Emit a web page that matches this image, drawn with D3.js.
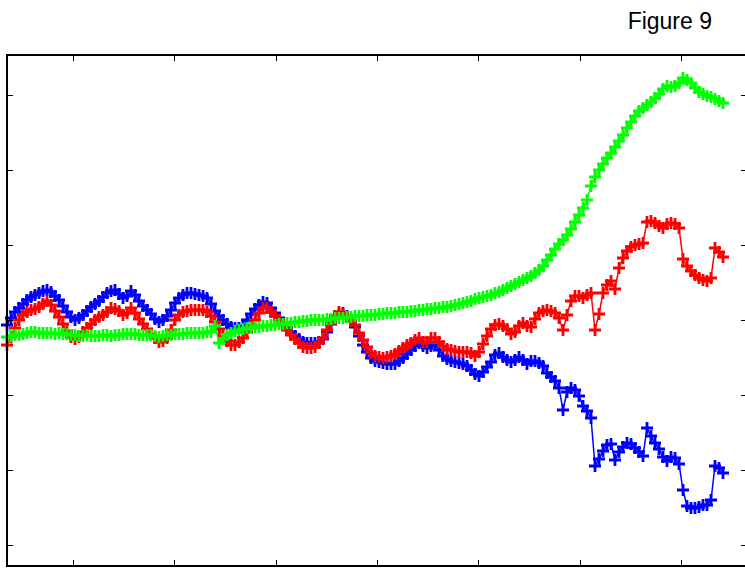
<!DOCTYPE html>
<html>
<head>
<meta charset="utf-8">
<script src="https://cdn.jsdelivr.net/npm/d3@7"></script>
<style>
  html, body { margin: 0; padding: 0; background: #fff; }
  svg { display: block; }
</style>
</head>
<body>
<div id="chart"></div>
<script>
// sample positions (x units) shared by all three traces
const step = 4;
// series values
const blueValues = [
  -5, 2, 8, 12, 16, 20, 23, 25, 27, 29,
  30, 28, 24, 20, 14, 8, 3, 0, 2, 5,
  9, 13, 16, 19, 23, 27, 29, 30, 26, 22,
  24, 29, 25, 19, 14, 10, 6, 1, -2, 0,
  4, 10, 17, 22, 25, 27, 27, 26, 25, 24,
  22, 16, 9, 4, 0, -4, -7, -8, -8, -6,
  0, 6, 11, 15, 18, 17, 12, 7, 2, -3,
  -8, -12, -16, -19, -22, -23, -23, -23, -22, -19,
  -12, -4, 3, 6, 7, 4, -1, -7, -16, -25,
  -32, -38, -41, -42, -43, -44, -44, -44, -41, -38,
  -34, -30, -26, -23, -26, -28, -26, -25, -30, -36,
  -39, -41, -42, -43, -44, -46, -50, -54, -56, -52,
  -47, -42, -35, -33, -37, -40, -42, -40, -37, -40,
  -44, -41, -41, -43, -46, -53, -57, -61, -68, -90,
  -72, -68, -70, -76, -86, -91, -98, -146, -139, -131,
  -125, -124, -140, -132, -127, -123, -124, -128, -132, -136,
  -108, -116, -123, -129, -137, -141, -137, -138, -144, -170,
  -186, -188, -188, -187, -185, -185, -180, -146, -148, -153
];
const redValues = [
  -25, -17, -8, 0, 5, 8, 10, 11, 13, 16,
  19, 15, 9, 3, -4, -11, -17, -19, -17, -12,
  -8, -4, 0, 3, 5, 8, 12, 11, 9, 5,
  7, 12, 7, 1, -4, -9, -14, -18, -22, -21,
  -18, -10, 0, 5, 8, 9, 10, 10, 10, 10,
  8, 4, -2, -9, -16, -21, -25, -25, -22, -18,
  -12, -6, 0, 7, 12, 12, 8, 4, 0, -5,
  -10, -15, -19, -23, -27, -28, -28, -27, -23, -18,
  -10, -3, 4, 8, 6, 3, -1, -5, -13, -20,
  -27, -33, -36, -37, -38, -37, -36, -34, -31, -28,
  -25, -23, -20, -18, -22, -22, -18, -18, -22, -26,
  -29, -30, -31, -32, -32, -32, -33, -36, -32, -24,
  -16, -9, -5, -4, -6, -9, -14, -12, -6, -3,
  -6, -7, 1, 7, 9, 10, 9, 7, 2, -10,
  5, 19, 24, 24, 22, 25, 27, -10, 6, 27,
  35, 39, 31, 52, 62, 69, 73, 75, 76, 77,
  98, 99, 97, 94, 92, 96, 97, 96, 92, 61,
  54, 49, 45, 42, 40, 39, 42, 72, 68, 63
];
const greenValues = [
  -17, -16, -15, -15, -14, -13, -12, -12, -13, -13,
  -13, -13, -14, -13, -14, -14, -15, -15, -16, -16,
  -15, -16, -16, -16, -15, -15, -16, -15, -15, -14,
  -14, -14, -14, -15, -15, -15, -15, -16, -17, -16,
  -15, -15, -14, -14, -14, -13, -13, -13, -13, -13,
  -12, -12, -6, -23, -19, -15, -13, -11, -10, -9,
  -8, -8, -7, -7, -6, -6, -5, -5, -4, -4,
  -3, -3, -2, -2, -1, -1, 0, 0, 0, 0,
  1, 1, 2, 2, 2, 3, 3, 4, 4, 4,
  5, 5, 5, 6, 6, 7, 7, 7, 8, 8,
  8, 9, 9, 10, 10, 11, 11, 12, 12, 13,
  13, 14, 15, 16, 17, 18, 19, 21, 22, 23,
  24, 25, 27, 28, 30, 32, 34, 36, 38, 40,
  42, 44, 47, 50, 54, 60, 65, 71, 76, 80,
  85, 91, 98, 105, 112, 120, 134, 143, 150, 156,
  162, 167, 173, 179, 185, 192, 198, 204, 209, 212,
  215, 218, 222, 226, 231, 234, 233, 234, 237, 242,
  240, 237, 232, 228, 226, 224, 223, 221, 219, 217
];
const xTicks = [66, 167, 269, 370, 471, 573, 674];
const yTicks = [-225, -150, -75, 0, 75, 150, 225];
const title = 'Figure 9';

const series = [
  { name: 'blue', color: '#0000ff', values: blueValues },
  { name: 'red', color: '#ff0000', values: redValues },
  { name: 'green', color: '#00ff00', values: greenValues }
];

const width = 745;
const height = 568;
const margin = { top: 55, right: -2, bottom: 2, left: 7 };
const tickLen = 6;
const markSize = 6;

const svg = d3.select('#chart')
  .append('svg')
  .attr('width', width)
  .attr('height', height);

const x = d3.scaleLinear()
  .domain([0, 740])
  .range([margin.left, width - margin.right]);

const y = d3.scaleLinear()
  .domain([-246, 265])
  .range([height - margin.bottom, margin.top]);

const line = d3.line()
  .x((d, i) => x(i * step))
  .y(d => y(d));

// traces: line plus '+' markers
const plot = svg.append('g');
series.forEach(s => {
  const g = plot.append('g').attr('stroke', s.color).attr('fill', 'none');
  g.append('path')
    .attr('d', line(s.values))
    .attr('stroke-width', 1.5);
  g.selectAll('path.mark')
    .data(s.values)
    .join('path')
    .attr('class', 'mark')
    .attr('stroke-width', 2.8)
    .attr('d', (d, i) => {
      const cx = x(i * step);
      const cy = y(d);
      return `M${cx - markSize},${cy}H${cx + markSize}M${cx},${cy - markSize}V${cy + markSize}`;
    });
});

// box and inward ticks
const [x0, x1] = x.range();
const [y0, y1] = y.range();
const axes = svg.append('g')
  .attr('stroke', '#000')
  .attr('shape-rendering', 'crispEdges');

axes.append('rect')
  .attr('x', x0)
  .attr('y', y1)
  .attr('width', x1 - x0)
  .attr('height', y0 - y1)
  .attr('fill', 'none')
  .attr('stroke-width', 1.3);

axes.selectAll('line.xb')
  .data(xTicks)
  .join('line')
  .attr('x1', d => x(d)).attr('x2', d => x(d))
  .attr('y1', y0).attr('y2', y0 - tickLen);
axes.selectAll('line.xt')
  .data(xTicks)
  .join('line')
  .attr('class', 'xt')
  .attr('x1', d => x(d)).attr('x2', d => x(d))
  .attr('y1', y1).attr('y2', y1 + tickLen);
axes.selectAll('line.yl')
  .data(yTicks)
  .join('line')
  .attr('class', 'yl')
  .attr('x1', x0).attr('x2', x0 + tickLen)
  .attr('y1', d => y(d)).attr('y2', d => y(d));
axes.selectAll('line.yr')
  .data(yTicks)
  .join('line')
  .attr('class', 'yr')
  .attr('x1', x1).attr('x2', x1 - tickLen)
  .attr('y1', d => y(d)).attr('y2', d => y(d));

svg.append('text')
  .attr('x', 712)
  .attr('y', 29)
  .attr('text-anchor', 'end')
  .style('font-family', '"Liberation Sans", Arial, sans-serif')
  .style('font-size', '23px')
  .attr('fill', '#000')
  .text(title);
</script>
</body>
</html>
